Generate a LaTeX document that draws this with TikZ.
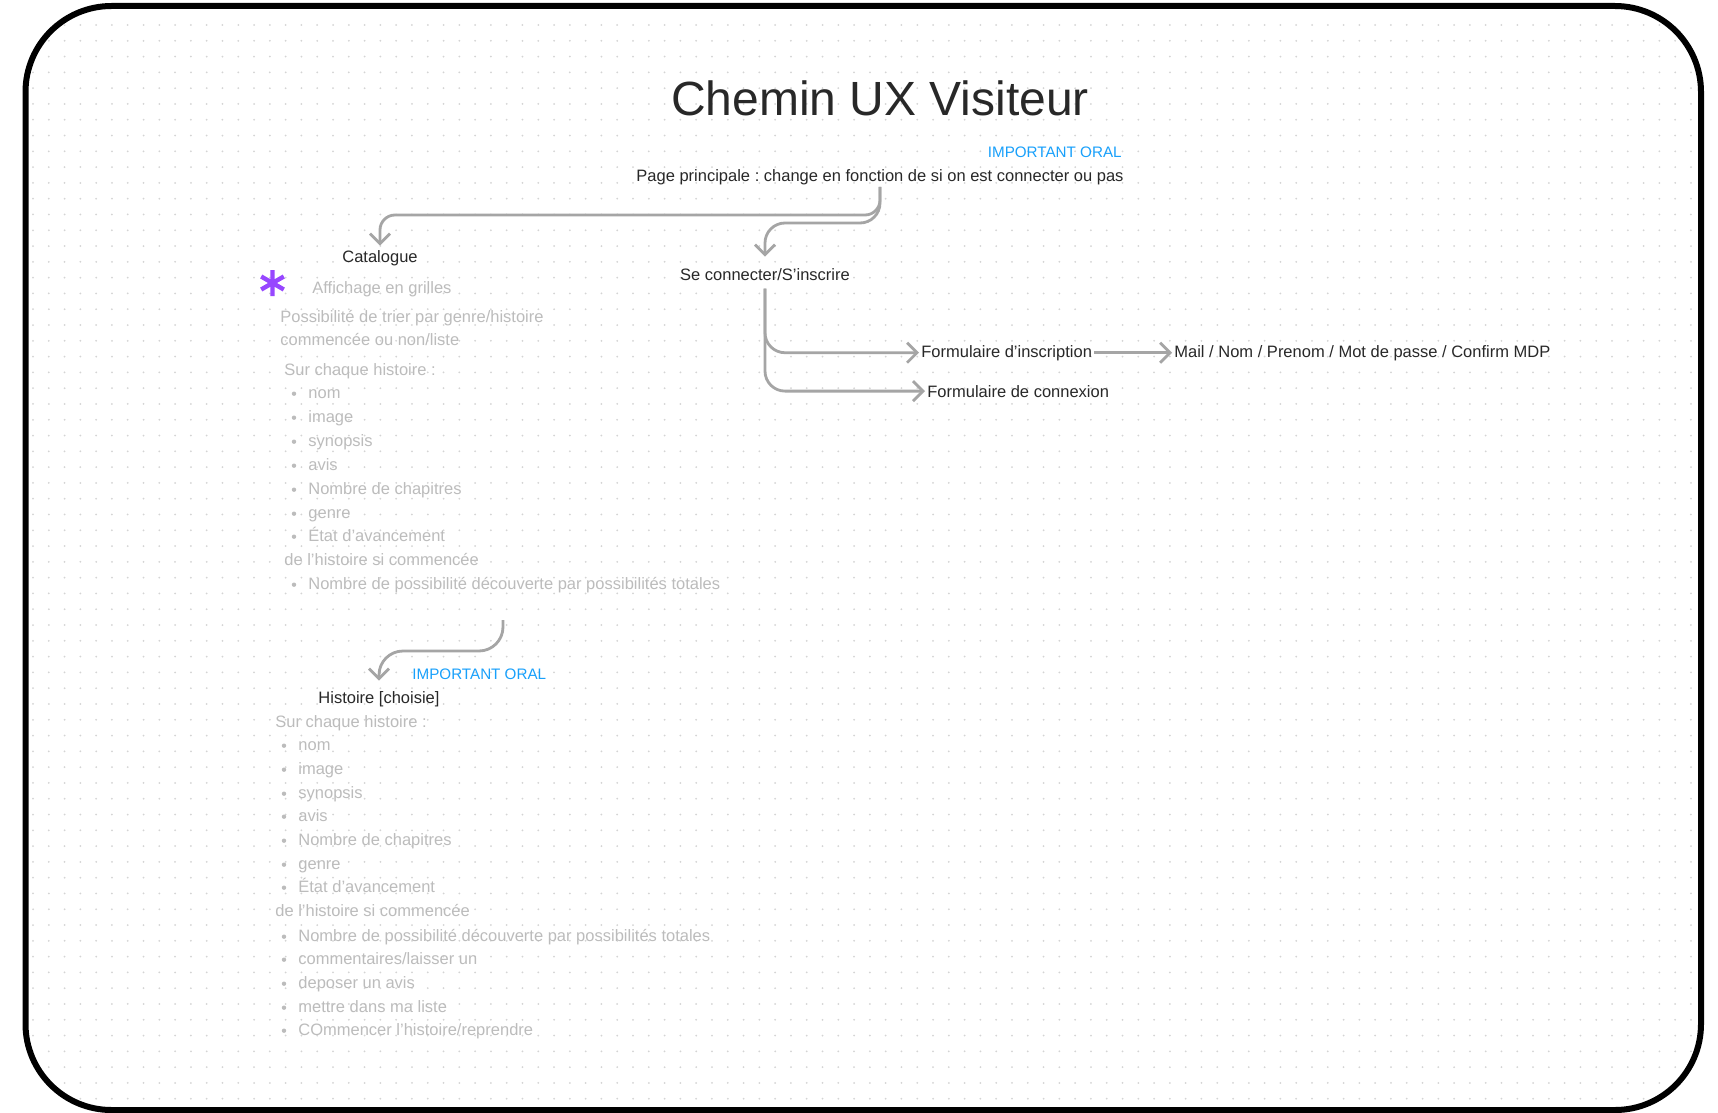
\documentclass[tikz,border=0pt]{standalone}
\usepackage{fontspec}
\setmainfont{Liberation Sans}
\usetikzlibrary{arrows.meta}
\definecolor{figblue}{RGB}{24,160,251}
\definecolor{figpurple}{RGB}{151,71,255}
\definecolor{darktxt}{RGB}{40,40,40}
\definecolor{lighttxt}{RGB}{188,188,188}
\definecolor{conncol}{RGB}{165,165,165}
\definecolor{dotcol}{RGB}{212,212,212}
\frenchspacing
\begin{document}
\begin{tikzpicture}[x=0.5pt,y=-0.5pt,
  titletxt/.style={font=\fontsize{24}{28}\selectfont, text=darktxt, inner sep=0pt},
  darklbl/.style={font=\fontsize{8.25}{10}\selectfont, text=darktxt, inner sep=1pt},
  lightlbl/.style={font=\fontsize{8.25}{10}\selectfont, text=lighttxt, inner sep=1pt, anchor=base west},
  oral/.style={font=\fontsize{7.6}{9}\selectfont, text=figblue, inner sep=1pt},
  conn/.style={draw=conncol, line width=1.4pt, -{Straight Barb[length=5pt,width=10pt]}},
  bul/.style={fill=lighttxt},
  frame/.style={draw=black, line width=3pt, rounded corners=43pt},
]
\useasboundingbox (0,0) rectangle (1718,1113);
\fill[white] (0,0) rectangle (1718,1113);

% dotted background
\begin{scope}
  \clip[rounded corners=43pt] (28,9) rectangle (1698,1107);
  \foreach \j in {0,...,69} {
    \fill[dotcol] \foreach \i in {0,...,106} {(33+15.79*\i, 25+15.79*\j) circle (0.5pt)};
  }
\end{scope}
\draw[frame] (25.5,6) rectangle (1701,1110);

% title and top
\node[titletxt, anchor=base] (title) at (880,116) {Chemin UX Visiteur};
\node[oral, anchor=base east] (oral1) at (1124,157) {IMPORTANT ORAL};
\node[darklbl, anchor=base] (pp) at (880,181) {Page principale : change en fonction de si on est connecter ou pas};

% main nodes
\node[darklbl, anchor=base] (cat) at (380,262) {Catalogue};
\node[darklbl, anchor=base] (sc) at (765,280) {Se connecter/S’inscrire};
\node[darklbl, anchor=base west] (fi) at (919,357) {Formulaire d’inscription};
\node[darklbl, anchor=base west] (mail) at (1172,357) {Mail / Nom / Prenom / Mot de passe / Confirm MDP};
\node[darklbl, anchor=base west] (fc) at (925,397) {Formulaire de connexion};

% asterisk
\draw[figpurple, line width=2.2pt] (272.5,270) -- (272.5,296)
  (261.2,276.5) -- (283.8,289.5) (261.2,289.5) -- (283.8,276.5);

% catalogue list
\node[lightlbl] (c1) at (310,293) {Affichage en grilles};
\node[lightlbl] (c2) at (278,322) {Possibilité de trier par genre/histoire};
\node[lightlbl] (c3) at (278,345) {commencée ou non/liste};
\node[lightlbl] (c4) at (282,375) {Sur chaque histoire :};
\node[lightlbl] (c5) at (306,398) {nom};
\node[lightlbl] (c6) at (306,422) {image};
\node[lightlbl] (c7) at (306,446) {synopsis};
\node[lightlbl] (c8) at (306,470) {avis};
\node[lightlbl] (c9) at (306,494) {Nombre de chapitres};
\node[lightlbl] (c10) at (306,518) {genre};
\node[lightlbl] (c11) at (306,541) {État d’avancement};
\node[lightlbl] (c12) at (282,565) {de l’histoire si commencée};
\node[lightlbl] (c13) at (306,589) {Nombre de possibilité découverte par possibilités totales};
\foreach \y in {398,422,446,470,494,518,541,589} {\fill[bul] (294,\y-4.3) circle (1.1pt);}

% histoire
\node[oral, anchor=base west] (oral2) at (410,679) {IMPORTANT ORAL};
\node[darklbl, anchor=base] (hist) at (379,703) {Histoire [choisie]};
\node[lightlbl] (h1) at (273,727) {Sur chaque histoire :};
\node[lightlbl] (h2) at (296,750) {nom};
\node[lightlbl] (h3) at (296,774) {image};
\node[lightlbl] (h4) at (296,798) {synopsis};
\node[lightlbl] (h5) at (296,821) {avis};
\node[lightlbl] (h6) at (296,845) {Nombre de chapitres};
\node[lightlbl] (h7) at (296,869) {genre};
\node[lightlbl] (h8) at (296,892) {État d’avancement};
\node[lightlbl] (h9) at (273,916) {de l’histoire si commencée};
\node[lightlbl] (h10) at (296,941) {Nombre de possibilité découverte par possibilités totales};
\node[lightlbl] (h11) at (296,964) {commentaires/laisser un};
\node[lightlbl] (h12) at (296,988) {deposer un avis};
\node[lightlbl] (h13) at (296,1012) {mettre dans ma liste};
\node[lightlbl] (h14) at (296,1035) {COmmencer l’histoire/reprendre};
\foreach \y in {750,774,798,821,845,869,892,941,964,988,1012,1035} {\fill[bul] (284,\y-4.3) circle (1.1pt);}

% connectors
\draw[conn, rounded corners=7.5pt] (pp.south) -- (pp.south |- 0,215) -| ([yshift=1pt]cat.north);
\draw[conn, rounded corners=10pt] (pp.south) -- (pp.south |- 0,223) -| ([yshift=4.5pt]sc.north);
\draw[conn, rounded corners=10pt] ([yshift=-3pt]sc.south) |- (fi.west);
\draw[conn, rounded corners=10pt] ([yshift=-3pt]sc.south) |- (fc.west);
\draw[conn] (fi.east) -- (fi.east -| mail.west);
\coordinate (lstart) at (503,620);
\draw[conn, rounded corners=12pt] (lstart) -- (lstart |- 0,651) -| ([yshift=4pt]hist.north);
\end{tikzpicture}
\end{document}
